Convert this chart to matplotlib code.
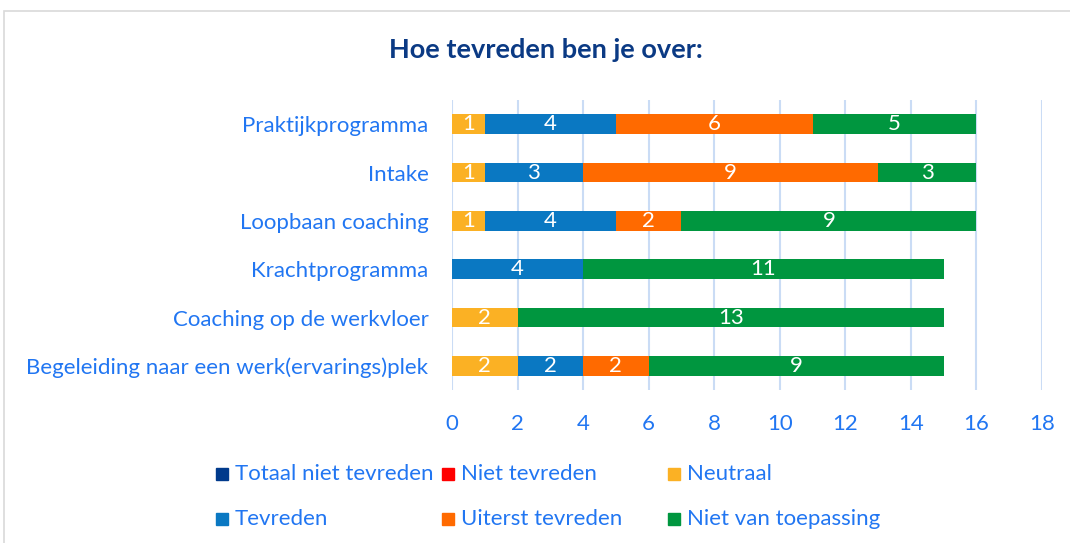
import matplotlib.pyplot as plt
from matplotlib.patches import Rectangle
import numpy as np

plt.rcParams['font.family'] = ['Lato', 'DejaVu Sans']

# categories top to bottom
categories = ['Praktijkprogramma', 'Intake', 'Loopbaan coaching', 'Krachtprogramma',
              'Coaching op de werkvloer', 'Begeleiding naar een werk(ervarings)plek']
series = ['Totaal niet tevreden', 'Niet tevreden', 'Neutraal',
          'Tevreden', 'Uiterst tevreden', 'Niet van toepassing']
colors = ['#003A8C', '#FF0000', '#FBB124', '#0A78C2', '#FF6A00', '#00963F']

totaal_niet = [0, 0, 0, 0, 0, 0]
niet_tevreden = [0, 0, 0, 0, 0, 0]
neutraal = [1, 1, 1, 0, 2, 2]
tevreden = [4, 3, 4, 4, 0, 2]
uiterst = [6, 9, 2, 0, 0, 2]
nvt = [5, 3, 9, 11, 13, 9]
values = [totaal_niet, niet_tevreden, neutraal, tevreden, uiterst, nvt]

xticks = [0, 2, 4, 6, 8, 10, 12, 14, 16, 18]

txt_blue = '#2176F2'
fs = 16
W, H = 1070, 543

fig = plt.figure(figsize=(W / 100, H / 100), dpi=100)
# chart border (runs off the right and bottom edge)
fig.patches.append(Rectangle((4 / W, -0.2), 1.2, 1.2 - 11 / H, transform=fig.transFigure,
                             fill=False, edgecolor='#D9D9D9', linewidth=1.2))

ax = fig.add_axes([452 / W, 1 - 390 / H, 590 / W, 290 / H])
y = np.arange(len(categories))
left = np.zeros(len(categories))
for name, vals, col in zip(series, values, colors):
    vals = np.array(vals, dtype=float)
    ax.barh(y, vals, left=left, height=0.41, color=col, zorder=3)
    for yi, (l, v) in enumerate(zip(left, vals)):
        if v > 0:
            ax.text(l + v / 2, yi, str(int(v)), color='white', ha='center', va='center',
                    fontsize=fs, zorder=4)
    left += vals

ax.set_ylim(len(categories) - 0.5, -0.5)
ax.set_xlim(0, 18)
ax.set_xticks(xticks)
ax.set_yticks(y)
ax.set_yticklabels(categories)
ax.grid(axis='x', color='#CADCF5', linewidth=1.5, zorder=0)
for s in ax.spines.values():
    s.set_visible(False)
ax.tick_params(axis='both', length=0, labelsize=fs, labelcolor=txt_blue)
ax.tick_params(axis='x', pad=17)
ax.tick_params(axis='y', pad=17)

fig.text(546 / W, 1 - 50 / H, 'Hoe tevreden ben je over:', ha='center', va='center',
         fontsize=19.5, fontweight='bold', color='#0B3A84')

# legend laid out like the reference, 3 columns x 2 rows
for i, (name, col) in enumerate(zip(series, colors)):
    cx = 216 + (i % 3) * 226
    cy = 474 + (i // 3) * 45
    fig.patches.append(Rectangle((cx / W, 1 - (cy + 6) / H), 12 / W, 12 / H,
                                 transform=fig.transFigure, color=col))
    fig.text((cx + 19) / W, 1 - cy / H, name, ha='left', va='center',
             fontsize=fs, color=txt_blue)

fig.savefig('out.png', dpi=100)
